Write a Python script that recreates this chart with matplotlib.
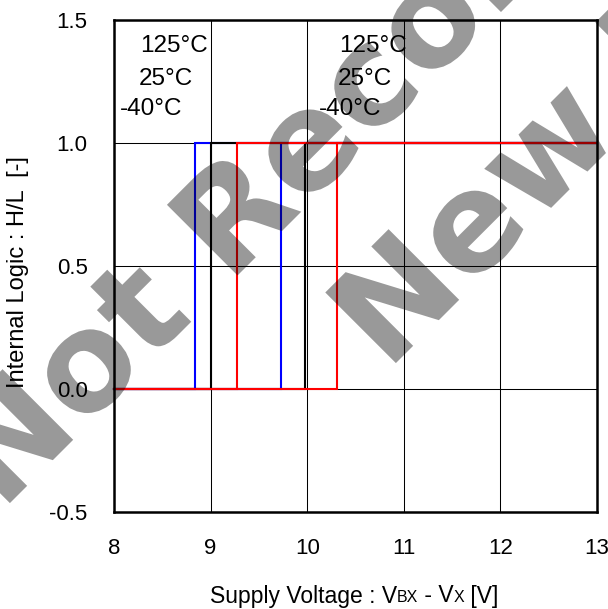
import matplotlib
matplotlib.use("Agg")
import matplotlib.pyplot as plt
import matplotlib.transforms as mtrans
from matplotlib.offsetbox import TextArea, HPacker, AnchoredOffsetbox
from matplotlib.textpath import TextPath
from matplotlib.patches import PathPatch
from matplotlib.font_manager import FontProperties

# ---- data ----
temperatures = ["125°C", "25°C", "-40°C"]
series_colors = ["#0000FF", "#000000", "#FF0000"]
falling_threshold = [8.84, 9.00, 9.27]   # V where logic returns low
rising_threshold = [9.73, 9.98, 10.31]   # V where logic goes high
v_start, v_end = 8.0, 13.0
logic_low, logic_high = 0.0, 1.0
x_ticks = [8, 9, 10, 11, 12, 13]
y_ticks = [-0.5, 0.0, 0.5, 1.0, 1.5]
y_tick_labels = ["-0.5", "0.0", "0.5", "1.0", "1.5"]

FONT = "Liberation Sans"
plt.rcParams['font.family'] = [FONT, 'DejaVu Sans']

W, H = 608, 609
fig = plt.figure(figsize=(W / 100, H / 100), dpi=100)
ax = fig.add_axes([114 / W, 1 - 512 / H, (597 - 114) / W, (512 - 20) / H])

for thr_lo, thr_hi, col in zip(falling_threshold, rising_threshold, series_colors):
    xs = [v_start, thr_hi, thr_hi, v_end, thr_lo, thr_lo, v_start]
    ys = [logic_low, logic_low, logic_high, logic_high, logic_high, logic_low, logic_low]
    ax.plot(xs, ys, color=col, lw=1.5, solid_joinstyle='miter', zorder=3, clip_on=False)

ax.set_xlim(v_start, v_end)
ax.set_ylim(-0.5, 1.5)
ax.set_xticks(x_ticks)
ax.set_xticklabels([str(t) for t in x_ticks])
ax.set_yticks(y_ticks)
ax.set_yticklabels(y_tick_labels)
ax.tick_params(axis='both', length=0, labelsize=16, colors='black')
ax.tick_params(axis='x', pad=19)
ax.tick_params(axis='y', pad=19)
ax.grid(True, color='black', lw=0.75, zorder=1)
for s in ax.spines.values():
    s.set_linewidth(1.8)
    s.set_zorder(4)

# temperature labels (two columns)
for x0 in (8.27, 10.33):
    for i, t in enumerate(temperatures):
        dx = [0.0, -0.01, -0.21][i]
        y = [1.394, 1.26, 1.137][i]
        ax.text(x0 + dx, y, t, fontsize=17.5, ha='left', va='center', zorder=5)

# y label
fig.text(18 / W, 1 - 272 / H, "Internal Logic : H/L  [-]", rotation=90,
         ha='center', va='center', fontsize=17)

# x label with smaller letters for BX / X
parts = [("Supply Voltage : V", 16.5), ("BX", 11.5), (" - V", 16.5), ("X", 11.5), (" [V]", 16.5)]
boxes = [TextArea(t, textprops=dict(fontsize=s, family=FONT)) for t, s in parts]
pack = HPacker(children=boxes, align="baseline", pad=0, sep=0)
anch = AnchoredOffsetbox(loc='center', child=pack, pad=0, frameon=False,
                         bbox_to_anchor=(354 / W, 1 - 596 / H),
                         bbox_transform=fig.transFigure, borderpad=0)
fig.add_artist(anch)

# watermark (semi-transparent bold text, rotated 45 degrees)
wm_font = FontProperties(family='DejaVu Sans', weight='bold')


def watermark(text, x_px, y_px):
    tp = TextPath((0, 0), text, size=137, prop=wm_font)
    tr = mtrans.Affine2D().rotate_deg(45).translate(x_px, H - y_px)
    patch = PathPatch(tp, transform=tr, facecolor='black', edgecolor='none',
                      alpha=0.4, zorder=10)
    fig.add_artist(patch)


watermark("Not Recommended for", 1, 512)
watermark("New Designs", 387, 372)

fig.savefig("out.png", dpi=100, facecolor='white')
